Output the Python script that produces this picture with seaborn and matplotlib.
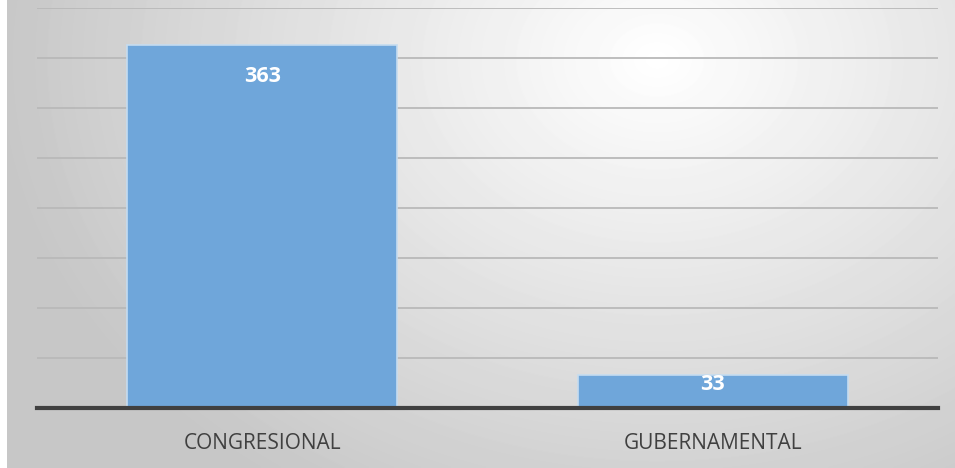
import numpy as np
import matplotlib
matplotlib.use("Agg")
import matplotlib.pyplot as plt
import seaborn as sns
import pandas as pd

# Data
categories = ["CONGRESIONAL", "GUBERNAMENTAL"]
values = [363, 33]

df = pd.DataFrame({"tipo": categories, "total": values})

sns.set_theme(style="white")
plt.rcParams["font.family"] = ["Open Sans", "DejaVu Sans"]

fig = plt.figure(figsize=(9.55, 4.68), dpi=100)

# radial gradient background (white centre, grey edges)
bg = fig.add_axes([7 / 955, 0, 948 / 955, 1])
h, w = 468, 948
yy, xx = np.mgrid[0:h, 0:w]
r = np.sqrt(((xx - 650) / 720.0) ** 2 + ((yy - 60) / 560.0) ** 2)
shade = np.clip(1.0 - 0.24 * r, 0.78, 1.0)
bg.imshow(shade, cmap="gray", vmin=0, vmax=1, aspect="auto", interpolation="bilinear")
bg.axis("off")

ax = fig.add_axes([37 / 955, 1 - 408 / 468, 901 / 955, 400 / 468])
ax.set_facecolor("none")

sns.barplot(data=df, x="tipo", y="total", color="#6fa6da", width=0.6,
            edgecolor="#c5dcf0", linewidth=1.2, saturation=1, ax=ax, zorder=3)

ax.set_xlim(-0.5, 1.5)
ax.set_ylim(0, 400)
ax.set_yticks(range(0, 401, 50))
ax.yaxis.grid(True, color="#b9b9b9", linewidth=1.3, zorder=0)
ax.set_axisbelow(True)
ax.tick_params(axis="y", left=False, labelleft=False)
ax.tick_params(axis="x", bottom=False, labelsize=15, labelcolor="#404040", pad=12)
ax.set_xlabel("")
ax.set_ylabel("")
for s in ["top", "left", "right"]:
    ax.spines[s].set_visible(False)
ax.spines["bottom"].set_color("#404040")
ax.spines["bottom"].set_linewidth(3)
ax.spines["bottom"].set_zorder(5)

# value labels inside the top of each bar
for i, v in enumerate(values):
    y = v - 32 if v > 60 else v - 9
    ax.text(i, y, str(v), ha="center", va="center", color="white",
            fontsize=15.5, fontweight="bold", zorder=6)

fig.savefig("out.png", dpi=100)
